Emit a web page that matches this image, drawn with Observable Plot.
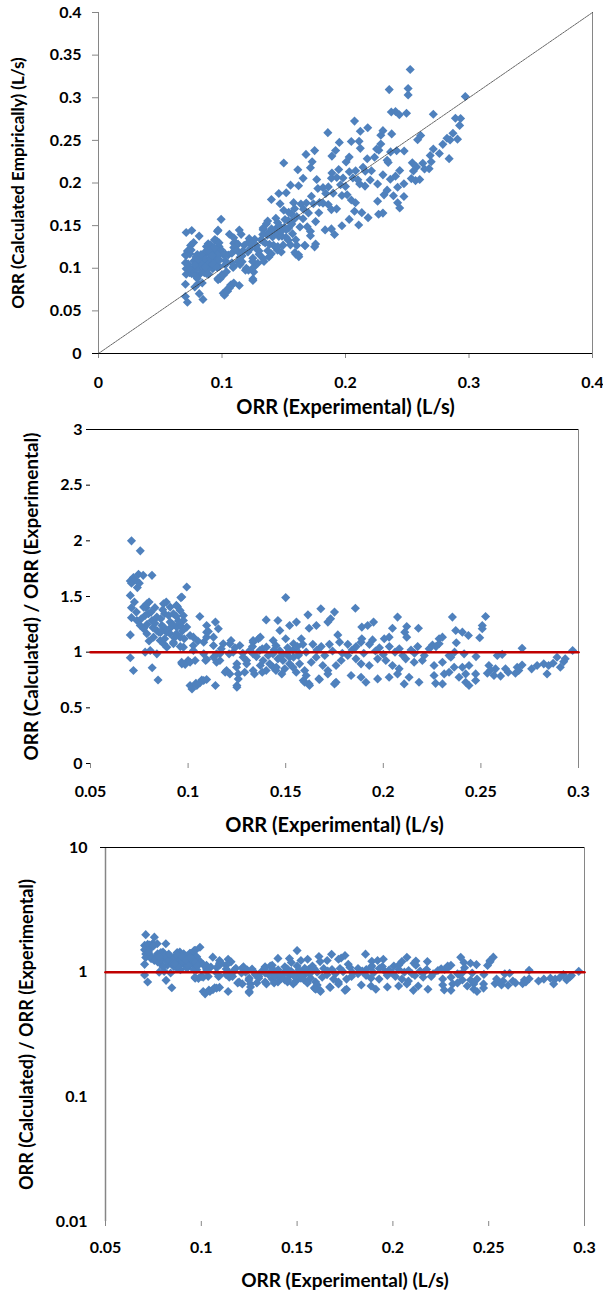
<!DOCTYPE html>
<html>
<head>
<meta charset="utf-8">
<script src="https://cdn.jsdelivr.net/npm/d3@7"></script>
<script src="https://cdn.jsdelivr.net/npm/@observablehq/plot@0.6"></script>
<style>
  body { margin: 0; background: white; }
  #charts { width: 603px; }
  #charts svg { display: block; }
</style>
</head>
<body>
<div id="charts"></div>
<script>
const orrExperimental = [
  0.0704, 0.072, 0.0746, 0.077, 0.071, 0.073, 0.0815, 0.071, 0.0755, 0.0704,
  0.071, 0.071, 0.0704, 0.0704, 0.072, 0.0816, 0.0846, 0.0785, 0.080, 0.0888,
  0.0963, 0.0945, 0.0738, 0.0755, 0.0772, 0.0789, 0.0797, 0.0815, 0.084, 0.0874,
  0.0908, 0.0925, 0.0959, 0.0968, 0.0993, 0.0976, 0.0993, 0.0942, 0.0908, 0.0874,
  0.084, 0.0823, 0.0789, 0.0772, 0.0857, 0.0891, 0.0925, 0.0959, 0.0806, 0.078,
  0.084, 0.0976, 0.0968, 0.1, 0.094, 0.088, 0.0976, 0.0908, 0.0866, 0.096,
  0.089, 0.094, 0.101, 0.0925, 0.0874, 0.1027, 0.0985, 0.0967, 0.076, 0.079,
  0.082, 0.083, 0.086, 0.085, 0.088, 0.091, 0.093, 0.095, 0.097, 0.074,
  0.075, 0.0735, 0.081, 0.087, 0.106, 0.1095, 0.114, 0.1155, 0.1095, 0.105,
  0.101, 0.1036, 0.101, 0.104, 0.107, 0.114, 0.109, 0.119, 0.125, 0.1257,
  0.1104, 0.108, 0.113, 0.113, 0.118, 0.122, 0.1265, 0.1333, 0.137, 0.1163,
  0.121, 0.1316, 0.1095, 0.113, 0.1146, 0.125, 0.130, 0.129, 0.1257, 0.125,
  0.134, 0.137, 0.140, 0.1436, 0.146, 0.1495, 0.154, 0.102, 0.1045, 0.108,
  0.1027, 0.1095, 0.1027, 0.108, 0.1146, 0.1163, 0.1214, 0.1231, 0.1282, 0.1248,
  0.1197, 0.1214, 0.1061, 0.1095, 0.13, 0.1333, 0.136, 0.140, 0.146, 0.150,
  0.147, 0.152, 0.1555, 0.1614, 0.168, 0.1436, 0.150, 0.154, 0.138, 0.144,
  0.138, 0.145, 0.148, 0.152, 0.159, 0.162, 0.167, 0.1716, 0.175, 0.1333,
  0.1367, 0.1401, 0.1435, 0.1469, 0.1504, 0.1537, 0.1384, 0.1418, 0.1452, 0.1486,
  0.152, 0.1333, 0.1537, 0.162, 0.1657, 0.1716, 0.173, 0.175, 0.1857, 0.1767,
  0.189, 0.192, 0.195, 0.2073, 0.2047, 0.212, 0.211, 0.218, 0.203, 0.2005,
  0.158, 0.189, 0.1945, 0.212, 0.2286, 0.156, 0.1588, 0.1639, 0.1682, 0.1724,
  0.1776, 0.1818, 0.1861, 0.1886, 0.1929, 0.198, 0.2031, 0.2082, 0.2142, 0.2176,
  0.2235, 0.227, 0.1565, 0.1571, 0.1597, 0.1631, 0.1656, 0.169, 0.1758, 0.1784,
  0.1818, 0.186, 0.1886, 0.1928, 0.1971, 0.2013, 0.2047, 0.2081, 0.2115, 0.2158,
  0.22, 0.226, 0.1554, 0.1605, 0.1673, 0.1716, 0.1758, 0.1835, 0.1886, 0.1911,
  0.1971, 0.203, 0.2073, 0.2107, 0.2132, 0.2183, 0.226, 0.2268, 0.1597, 0.1622,
  0.2354, 0.2524, 0.2507, 0.2507, 0.2371, 0.2405, 0.2436, 0.2494, 0.2303, 0.2286,
  0.2252, 0.2374, 0.2711, 0.297, 0.2337, 0.2346, 0.2414, 0.2584, 0.2609, 0.289,
  0.2932, 0.2303, 0.2363, 0.2405, 0.2439, 0.2541, 0.2575, 0.2626, 0.2686, 0.2711,
  0.2788, 0.2822, 0.2847, 0.2907, 0.2924, 0.2312, 0.2337, 0.2388, 0.2422, 0.2473,
  0.2533, 0.2567, 0.2601, 0.2677, 0.2694, 0.2839, 0.2303, 0.2422, 0.2439, 0.2473,
  0.117, 0.124, 0.128, 0.133, 0.135, 0.141, 0.145, 0.148, 0.151, 0.157,
  0.1605, 0.166, 0.170, 0.174, 0.179, 0.184, 0.190, 0.196, 0.200, 0.206, 0.210, 0.216, 0.221,
  0.078, 0.083, 0.086, 0.090, 0.092, 0.094, 0.096, 0.098, 0.0725, 0.08,
  0.2365, 0.2475, 0.255, 0.264, 0.276, 0.287
];

const orrRatio = [
  1.64, 1.67, 1.70, 1.69, 1.62, 1.65, 1.69, 2.0, 1.91, 1.51,
  1.40, 1.31, 1.155, 0.95, 0.835, 0.86, 0.75, 1.40, 1.45, 1.45,
  1.49, 1.41, 1.285, 1.24, 1.405, 1.435, 1.345, 1.285, 1.315, 1.435,
  1.405, 1.345, 1.375, 1.495, 1.585, 1.285, 1.225, 1.225, 1.165, 1.225,
  1.195, 1.135, 1.165, 1.21, 1.105, 1.045, 1.075, 1.135, 1.015, 1.0,
  0.985, 1.045, 0.895, 0.925, 1.42, 1.345, 1.33, 1.27, 1.24, 1.24,
  1.18, 1.165, 1.15, 1.09, 1.075, 1.06, 0.89, 0.91, 1.30, 1.25,
  1.22, 1.26, 1.30, 1.18, 1.12, 1.22, 1.13, 1.28, 1.19, 1.58,
  1.62, 1.36, 1.36, 1.38, 1.32, 1.24, 1.27, 1.21, 1.18, 1.10,
  0.91, 0.925, 0.70, 0.72, 0.75, 0.70, 0.925, 0.82, 0.70, 0.805,
  1.185, 1.09, 1.135, 1.06, 1.075, 1.105, 1.06, 1.09, 1.135, 0.985,
  0.985, 1.015, 0.935, 0.955, 0.91, 0.895, 0.925, 0.82, 0.76, 0.685,
  0.805, 0.88, 0.835, 0.865, 0.94, 0.85, 0.955, 0.67, 0.70, 0.745,
  1.135, 1.135, 1.015, 0.985, 0.985, 0.925, 1.075, 1.0, 0.955, 0.865,
  0.835, 0.805, 0.725, 0.755, 0.895, 1.105, 1.12, 1.29, 1.285, 1.49,
  1.195, 1.24, 1.27, 1.335, 1.39, 1.105, 1.12, 1.075, 1.03, 1.02,
  0.82, 0.835, 0.805, 0.895, 0.745, 0.715, 0.76, 0.835, 0.715, 0.985,
  1.015, 1.045, 0.985, 1.015, 0.985, 1.015, 0.925, 0.895, 0.865, 0.925,
  0.955, 0.835, 0.865, 1.215, 1.24, 1.27, 1.30, 1.36, 1.395, 1.155,
  1.225, 1.24, 1.27, 1.315, 1.215, 1.23, 1.18, 1.215, 1.135, 1.12,
  1.12, 1.12, 1.11, 1.135, 1.12, 1.05, 1.07, 1.07, 1.05, 1.07,
  1.09, 1.07, 1.05, 1.09, 1.07, 1.04, 1.05, 1.03, 1.02, 1.05,
  1.03, 1.05, 0.97, 0.895, 0.835, 0.91, 0.955, 0.88, 0.88, 0.925,
  0.97, 0.94, 0.895, 0.88, 0.94, 0.925, 0.88, 0.85, 0.94, 0.91,
  0.925, 0.88, 0.82, 0.79, 0.755, 0.805, 0.73, 0.79, 0.775, 0.73,
  0.76, 0.775, 0.805, 0.715, 0.775, 0.73, 0.79, 0.72, 0.73, 0.70,
  1.315, 1.32, 1.24, 1.21, 1.195, 1.18, 1.15, 1.13, 1.135, 1.075,
  1.065, 1.085, 1.035, 1.015, 0.97, 0.955, 0.985, 0.97, 0.98, 0.955,
  0.94, 0.91, 0.865, 0.865, 0.88, 0.88, 0.85, 0.85, 0.865, 0.885,
  0.88, 0.895, 0.88, 0.865, 0.915, 0.805, 0.82, 0.775, 0.805, 0.805,
  0.81, 0.79, 0.785, 0.81, 0.835, 0.805, 0.715, 0.73, 0.70, 0.745,
  1.03, 1.04, 0.99, 1.05, 0.96, 0.97, 1.06, 0.97, 1.04, 0.99,
  1.0, 1.02, 0.97, 1.01, 0.99, 1.02, 0.99, 1.01, 0.98, 1.0, 0.97, 0.99, 0.97,
  1.33, 1.40, 1.18, 1.33, 1.25, 1.32, 1.05, 1.12, 1.45, 1.10,
  1.0, 0.96, 0.84, 0.82, 0.85, 0.90
];

// reference lines: 1:1 line and ratio = 1
const parityLine = [0, 0.4];
const unityLineX = [0.05, 0.3];
const unityValue = 1;

// tick values
const ticksTopX = [0, 0.1, 0.2, 0.3, 0.4];
const ticksTopY = [0, 0.05, 0.1, 0.15, 0.2, 0.25, 0.3, 0.35, 0.4];
const ticksRatioX = [0.05, 0.1, 0.15, 0.2, 0.25, 0.3];
const ticksRatioY = [0, 0.5, 1, 1.5, 2, 2.5, 3];
const ticksLogY = [0.01, 0.1, 1, 10];

const labelExp = "ORR (Experimental) (L/s)";
const labelCalc = "ORR (Calculated Empirically) (L/s)";
const labelRatio = "ORR (Calculated) / ORR (Experimental)";

const points = orrExperimental.map((exp, i) => ({
  exp,
  ratio: orrRatio[i],
  calc: exp * orrRatio[i]
}));

const blue = "#4f81bd";
const gray = "#868686";
const red = "#c00000";
const style = {
  fontFamily: "Lato, 'Open Sans', sans-serif",
  fontSize: "16px",
  fontWeight: "bold",
  color: "black",
  background: "white",
  overflow: "visible"
};

function diamonds(y) {
  return Plot.dot(points, { x: "exp", y, symbol: "diamond2", r: 4.1, fill: blue });
}

function xTitle(dy, fontSize) {
  return Plot.text([labelExp], {
    text: d => d, frameAnchor: "bottom", textAnchor: "middle", lineAnchor: "middle", dy, fontSize
  });
}

function yTitle(text, dx, fontSize) {
  return Plot.text([text], {
    text: d => d, frameAnchor: "left", textAnchor: "middle", lineAnchor: "middle", rotate: -90, dx, fontSize
  });
}

const fmt = d => String(d);

// 1. calculated vs experimental
const chart1 = Plot.plot({
  width: 603,
  height: 418,
  marginTop: 12,
  marginRight: 11,
  marginBottom: 65,
  marginLeft: 98,
  style,
  x: { domain: [0, 0.4], label: null },
  y: { domain: [0, 0.4], label: null },
  marks: [
    Plot.ruleX([0.4], { stroke: gray }),
    Plot.ruleX([0], { stroke: gray }),
    Plot.axisY(ticksTopY, { tickSize: 6, tickPadding: 11, stroke: gray, tickFormat: fmt, label: null }),
    Plot.axisX(ticksTopX, { tickSize: 5, tickPadding: 18, stroke: gray, tickFormat: fmt, label: null }),
    Plot.ruleY([0], { stroke: "black", insetLeft: -6 }),
    diamonds("calc"),
    Plot.line(parityLine, { x: d => d, y: d => d, stroke: "#333", strokeWidth: 0.75, strokeDasharray: "2,1" }),
    xTitle(54, 20),
    yTitle(labelCalc, -80, 17)
  ]
});

// 2. ratio, linear
const chart2 = Plot.plot({
  width: 603,
  height: 418,
  marginTop: 11,
  marginRight: 25,
  marginBottom: 73,
  marginLeft: 90,
  style,
  x: { domain: [0.05, 0.3], label: null },
  y: { domain: [0, 3], label: null },
  marks: [
    Plot.ruleX([0.3], { stroke: gray }),
    Plot.ruleY([3], { stroke: "black", insetLeft: -4 }),
    Plot.axisY(ticksRatioY, { tickSize: 4, tickPadding: 4, stroke: "black", tickFormat: fmt, label: null }),
    Plot.axisX(ticksRatioX, { tickSize: 5, tickPadding: 17, stroke: gray, tickFormat: fmt, label: null }),
    diamonds("ratio"),
    Plot.line(unityLineX, { x: d => d, y: () => unityValue, stroke: red, strokeWidth: 2.5 }),
    xTitle(62, 20),
    yTitle(labelRatio, -59, 19)
  ]
});

// 3. ratio, log
const chart3 = Plot.plot({
  width: 603,
  height: 455,
  marginTop: 11,
  marginRight: 19,
  marginBottom: 70,
  marginLeft: 105,
  style,
  x: { domain: [0.05, 0.3], label: null },
  y: { type: "log", domain: [0.01, 10], label: null },
  marks: [
    Plot.ruleX([0.05], { stroke: gray, strokeWidth: 1.5 }),
    Plot.ruleX([0.3], { stroke: gray }),
    Plot.ruleY([10], { stroke: "black", insetLeft: -5 }),
    Plot.axisY(ticksLogY, { tickSize: 0, tickPadding: 18, tickFormat: fmt, label: null }),
    Plot.axisX(ticksRatioX, { tickSize: 5, tickPadding: 15, stroke: gray, tickFormat: fmt, label: null }),
    diamonds("ratio"),
    Plot.line(unityLineX, { x: d => d, y: () => unityValue, stroke: red, strokeWidth: 2.5 }),
    xTitle(59, 19),
    yTitle(labelRatio, -78, 18)
  ]
});

const root = document.getElementById("charts");
root.append(chart1, chart2, chart3);
</script>
</body>
</html>
